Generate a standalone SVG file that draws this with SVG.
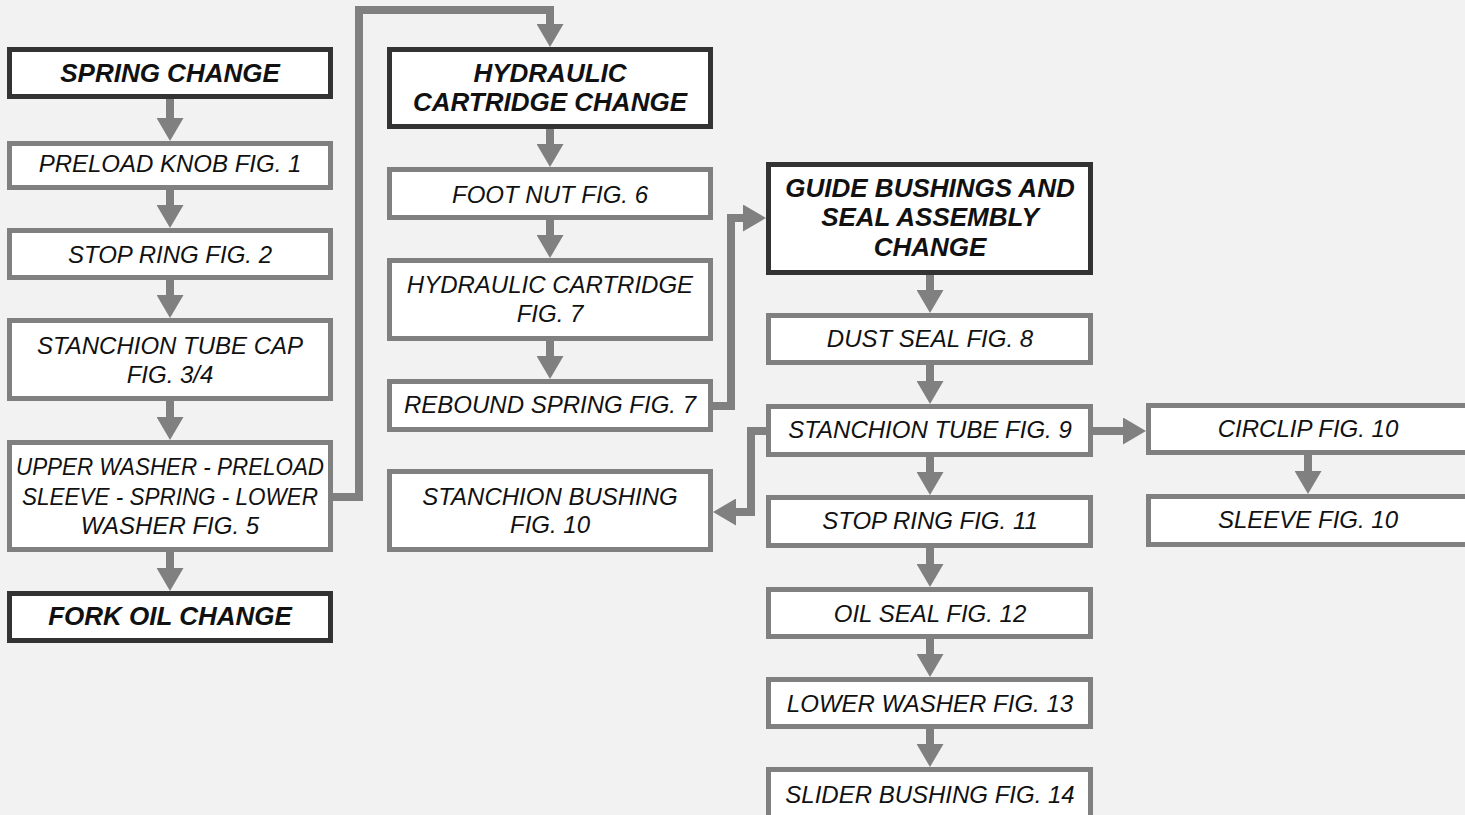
<svg xmlns="http://www.w3.org/2000/svg" width="1465" height="815" viewBox="0 0 1465 815">
<defs>
<marker id="ah" viewBox="0 0 23 27" markerWidth="23" markerHeight="27" refX="1" refY="13.5" markerUnits="userSpaceOnUse" orient="auto">
<path d="M0,0 L23,13.5 L0,27 z" fill="#808080"/>
</marker>
<style>
.box{fill:#ffffff;stroke:#808080;stroke-width:5}
.hdr{fill:#ffffff;stroke:#333333;stroke-width:5}
.t{font-family:"Liberation Sans",Arial,sans-serif;font-style:italic;font-size:24px;fill:#111111;text-anchor:middle}
.b{font-family:"Liberation Sans",Arial,sans-serif;font-style:italic;font-weight:bold;font-size:26px;fill:#111111;text-anchor:middle}
.c{fill:none;stroke:#808080;stroke-width:8;stroke-linejoin:miter;marker-end:url(#ah)}
</style>
</defs>
<rect x="0" y="0" width="1465" height="815" fill="#f2f2f2"/>

<g id="spring-change"><rect class="hdr" x="9.5" y="49.5" width="321" height="47"/><text class="b" x="170" y="82">SPRING CHANGE</text></g>
<g id="preload-knob"><rect class="box" x="9.5" y="143.5" width="321" height="44"/><text class="t" x="170" y="172">PRELOAD KNOB FIG. 1</text></g>
<g id="stop-ring-2"><rect class="box" x="9.5" y="230.5" width="321" height="47"/><text class="t" x="170" y="263">STOP RING FIG. 2</text></g>
<g id="stanchion-tube-cap"><rect class="box" x="9.5" y="320.5" width="321" height="78"/><text class="t" x="170" y="354">STANCHION TUBE CAP</text><text class="t" x="170" y="383">FIG. 3/4</text></g>
<g id="upper-washer"><rect class="box" x="9.5" y="442.5" width="321" height="107"/><text class="t" x="170" y="475" textLength="308" lengthAdjust="spacingAndGlyphs">UPPER WASHER - PRELOAD</text><text class="t" x="170" y="505" textLength="296" lengthAdjust="spacingAndGlyphs">SLEEVE - SPRING - LOWER</text><text class="t" x="170" y="534">WASHER FIG. 5</text></g>
<g id="fork-oil-change"><rect class="hdr" x="9.5" y="593.5" width="321" height="47"/><text class="b" x="170" y="625">FORK OIL CHANGE</text></g>

<g id="hydraulic-cartridge-change"><rect class="hdr" x="389.5" y="49.5" width="321" height="77"/><text class="b" x="550" y="82">HYDRAULIC</text><text class="b" x="550" y="111">CARTRIDGE CHANGE</text></g>
<g id="foot-nut"><rect class="box" x="389.5" y="169.5" width="321" height="48"/><text class="t" x="550" y="203">FOOT NUT FIG. 6</text></g>
<g id="hydraulic-cartridge"><rect class="box" x="389.5" y="260.5" width="321" height="78"/><text class="t" x="550" y="293">HYDRAULIC CARTRIDGE</text><text class="t" x="550" y="322">FIG. 7</text></g>
<g id="rebound-spring"><rect class="box" x="389.5" y="381.5" width="321" height="48"/><text class="t" x="550" y="413">REBOUND SPRING FIG. 7</text></g>
<g id="stanchion-bushing"><rect class="box" x="389.5" y="471.5" width="321" height="78"/><text class="t" x="550" y="505">STANCHION BUSHING</text><text class="t" x="550" y="533">FIG. 10</text></g>

<g id="guide-bushings"><rect class="hdr" x="768.5" y="164.5" width="322" height="108"/><text class="b" x="930" y="197">GUIDE BUSHINGS AND</text><text class="b" x="930" y="226">SEAL ASSEMBLY</text><text class="b" x="930" y="256">CHANGE</text></g>
<g id="dust-seal"><rect class="box" x="768.5" y="315.5" width="322" height="47"/><text class="t" x="930" y="347">DUST SEAL FIG. 8</text></g>
<g id="stanchion-tube"><rect class="box" x="768.5" y="406.5" width="322" height="48"/><text class="t" x="930" y="438">STANCHION TUBE FIG. 9</text></g>
<g id="stop-ring-11"><rect class="box" x="768.5" y="497.5" width="322" height="48"/><text class="t" x="930" y="529">STOP RING FIG. 11</text></g>
<g id="oil-seal"><rect class="box" x="768.5" y="589.5" width="322" height="47"/><text class="t" x="930" y="622">OIL SEAL FIG. 12</text></g>
<g id="lower-washer"><rect class="box" x="768.5" y="679.5" width="322" height="47"/><text class="t" x="930" y="712">LOWER WASHER FIG. 13</text></g>
<g id="slider-bushing"><rect class="box" x="768.5" y="769.5" width="322" height="60"/><text class="t" x="930" y="803">SLIDER BUSHING FIG. 14</text></g>

<g id="circlip"><rect class="box" x="1148.5" y="405.5" width="322" height="47"/><text class="t" x="1308" y="437">CIRCLIP FIG. 10</text></g>
<g id="sleeve"><rect class="box" x="1148.5" y="496.5" width="322" height="48"/><text class="t" x="1308" y="528">SLEEVE FIG. 10</text></g>

<g id="connectors">
<path class="c" d="M170,99 V119"/>
<path class="c" d="M170,190 V206"/>
<path class="c" d="M170,280 V296"/>
<path class="c" d="M170,401 V418"/>
<path class="c" d="M170,552 V569"/>
<path class="c" d="M331,497 H359 V10 H550 V25"/>
<path class="c" d="M550,129 V145"/>
<path class="c" d="M550,220 V236"/>
<path class="c" d="M550,341 V357"/>
<path class="c" d="M711,406 H731 V218 H744"/>
<path class="c" d="M930,275 V291"/>
<path class="c" d="M930,365 V382"/>
<path class="c" d="M930,457 V473"/>
<path class="c" d="M930,548 V565"/>
<path class="c" d="M930,639 V655"/>
<path class="c" d="M930,729 V745"/>
<path class="c" d="M768,431 H751 V512 H735"/>
<path class="c" d="M1091,431 H1124"/>
<path class="c" d="M1308,455 V472"/>
</g>
</svg>
